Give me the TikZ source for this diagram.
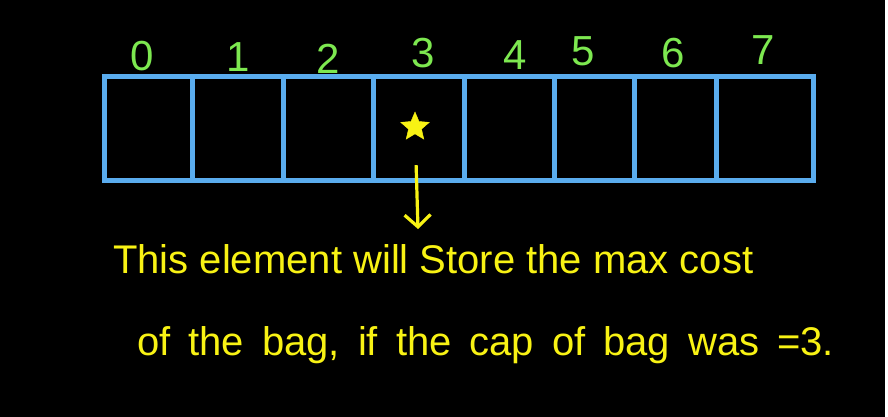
\documentclass[tikz,border=0pt]{standalone}
\usepackage{fontspec}
\setmainfont{Liberation Sans}
\usepackage{xcolor}
\usepackage{tikz}
\usetikzlibrary{arrows.meta,positioning,shapes.geometric}
\definecolor{cellblue}{RGB}{90,172,238}
\definecolor{idxgreen}{RGB}{125,232,80}
\definecolor{inkyellow}{RGB}{248,242,20}

\begin{document}
\begin{tikzpicture}[x=1pt,y=-1pt,
  cell/.style={draw=cellblue,line width=5pt,minimum height=104.5pt,inner sep=0pt},
  idx/.style={text=idxgreen,font=\fontsize{42}{42}\selectfont,inner sep=0pt},
  note/.style={text=inkyellow,font=\fontsize{40}{40}\selectfont,inner sep=0pt,anchor=base west},
  arr/.style={draw=inkyellow,line width=3.2pt,-{Straight Barb[length=12pt,width=26pt,line width=3.2pt]}}]
  \useasboundingbox (0,0) rectangle (888,417);
  \fill[black] (0,0) rectangle (885,417);
  % the array
  \node[cell,minimum width=88pt] (c0) at (148,128.5) {};
  \node[cell,minimum width=91pt] (c1) at (237.5,128.5) {};
  \node[cell,minimum width=90pt] (c2) at (328,128.5) {};
  \node[cell,minimum width=91pt] (c3) at (418.5,128.5) {};
  \node[cell,minimum width=90pt] (c4) at (509,128.5) {};
  \node[cell,minimum width=80pt] (c5) at (594,128.5) {};
  \node[cell,minimum width=82pt] (c6) at (675,128.5) {};
  \node[cell,minimum width=97pt] (c7) at (764.5,128.5) {};
  % indices
  \node[idx] (i0) at (142,56) {0};
  \node[idx] (i1) at (238,57) {1};
  \node[idx] (i2) at (328,59) {2};
  \node[idx] (i3) at (423,53) {3};
  \node[idx] (i4) at (515,55) {4};
  \node[idx] (i5) at (583,51) {5};
  \node[idx] (i6) at (673,53) {6};
  \node[idx] (i7) at (763,50) {7};
  % marked element
  \node[star,star points=5,star point ratio=2.2,fill=inkyellow,draw=inkyellow,minimum size=30pt,inner sep=0pt] (mark) at (415,127) {};
  \coordinate (tip) at (418,229);
  \draw[arr,shorten <=31pt] (mark) -- (tip);
  \node[note] (l1) at (113,273) {This element will Store the max cost};
  \node[note] (l2) at (137,355) {\spaceskip=18pt of the bag, if the cap of bag was =3.};
\end{tikzpicture}
\end{document}
